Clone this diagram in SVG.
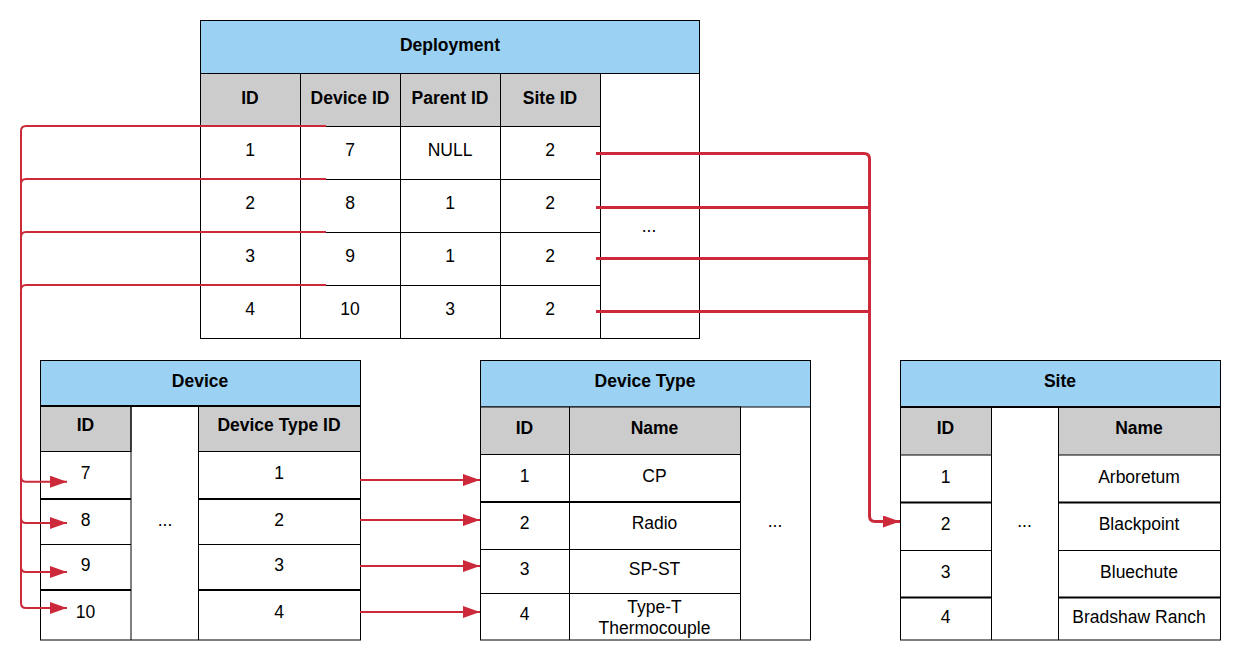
<svg xmlns="http://www.w3.org/2000/svg" width="1252" height="660" viewBox="0 0 1252 660">
<defs>
<marker id="ah" markerWidth="17" markerHeight="12" refX="17" refY="6" orient="auto" markerUnits="userSpaceOnUse"><path d="M0,0 L17,6 L0,12 Z" fill="#cc2a3a"/></marker>
<style>
.t{font-family:"Liberation Sans",Arial,sans-serif;font-size:17.5px;fill:#000;text-anchor:middle}
.b{font-weight:bold}
.hd{fill:#9bd2f3;stroke:#000;stroke-width:1}
.gr{fill:#cccccc;stroke:#000;stroke-width:1}
.cell{fill:#fff;stroke:#000;stroke-width:1}
.ln{stroke:#000;stroke-width:1;fill:none}
.tk{stroke:#000;stroke-width:2;fill:none}
.c{fill:none;stroke:#cc2a3a;stroke-width:2}
.c3{stroke-width:3}
</style>
</defs>
<rect width="1252" height="660" fill="#fff"/>

<g id="deployment">
<rect class="cell" x="200.5" y="20.5" width="499" height="318"/>
<rect class="hd" x="200.5" y="20.5" width="499" height="53"/>
<rect class="gr" x="200.5" y="73.5" width="400" height="53"/>
<path class="ln" d="M300.5,73.5V338.5M400.5,73.5V338.5M500.5,73.5V338.5M600.5,73.5V338.5M200.5,179.5H600.5M200.5,232.5H600.5M200.5,285.5H600.5"/>
<text class="t b" x="450" y="50.5">Deployment</text>
<text class="t b" x="250" y="103.5">ID</text>
<text class="t b" x="350" y="103.5">Device ID</text>
<text class="t b" x="450" y="103.5">Parent ID</text>
<text class="t b" x="550" y="103.5">Site ID</text>
<text class="t" x="250" y="156">1</text><text class="t" x="350" y="156">7</text><text class="t" x="450" y="156">NULL</text><text class="t" x="550" y="156">2</text>
<text class="t" x="250" y="209">2</text><text class="t" x="350" y="209">8</text><text class="t" x="450" y="209">1</text><text class="t" x="550" y="209">2</text>
<text class="t" x="250" y="262">3</text><text class="t" x="350" y="262">9</text><text class="t" x="450" y="262">1</text><text class="t" x="550" y="262">2</text>
<text class="t" x="250" y="315">4</text><text class="t" x="350" y="315">10</text><text class="t" x="450" y="315">3</text><text class="t" x="550" y="315">2</text>
<text class="t" x="649" y="232">...</text>
</g>

<g id="device">
<rect class="cell" x="40.5" y="360.5" width="320" height="279.5"/>
<rect class="hd" x="40.5" y="360.5" width="320" height="45.5"/>
<rect class="gr" x="40.5" y="406" width="90.5" height="45.5"/>
<rect class="gr" x="198.5" y="406" width="162" height="45.5"/>
<path class="tk" d="M40.5,406H360.5"/>
<path class="ln" d="M131,406V640M198.5,406V640M40.5,544.5H131M198.5,544.5H360.5"/>
<path class="tk" d="M40.5,499H131M198.5,499H360.5M40.5,590H131M198.5,590H360.5"/>
<text class="t b" x="200" y="387">Device</text>
<text class="t b" x="85.5" y="431">ID</text>
<text class="t b" x="279" y="431">Device Type ID</text>
<text class="t" x="85.5" y="479">7</text><text class="t" x="279" y="479">1</text>
<text class="t" x="85.5" y="526">8</text><text class="t" x="279" y="526">2</text>
<text class="t" x="85.5" y="571">9</text><text class="t" x="279" y="571">3</text>
<text class="t" x="85.5" y="618">10</text><text class="t" x="279" y="618">4</text>
<text class="t" x="165" y="526">...</text>
</g>

<g id="device-type">
<rect class="cell" x="480.5" y="360.5" width="330" height="279.5"/>
<rect class="hd" x="480.5" y="360.5" width="330" height="46.5"/>
<rect class="gr" x="480.5" y="407" width="260" height="47.5"/>
<path class="ln" d="M569.5,407V640M740.5,407V640M480.5,549.5H740.5M480.5,593.5H740.5"/>
<path class="tk" d="M480.5,502H740.5"/>
<text class="t b" x="645" y="387">Device Type</text>
<text class="t b" x="524.5" y="434">ID</text>
<text class="t b" x="654.5" y="434">Name</text>
<text class="t" x="524.5" y="481.5">1</text><text class="t" x="654.5" y="481.5">CP</text>
<text class="t" x="524.5" y="529">2</text><text class="t" x="654.5" y="529">Radio</text>
<text class="t" x="524.5" y="575">3</text><text class="t" x="654.5" y="575">SP-ST</text>
<text class="t" x="524.5" y="620">4</text><text class="t" x="654.5" y="612.5">Type-T</text><text class="t" x="654.5" y="634">Thermocouple</text>
<text class="t" x="775" y="527">...</text>
</g>

<g id="site">
<rect class="cell" x="900.5" y="360.5" width="320" height="279.5"/>
<rect class="hd" x="900.5" y="360.5" width="320" height="46.5"/>
<rect class="gr" x="900.5" y="407" width="91" height="48"/>
<rect class="gr" x="1058.5" y="407" width="162" height="48"/>
<path class="tk" d="M900.5,407H1220.5"/>
<path class="ln" d="M991.5,407V640M1058.5,407V640M900.5,550.5H991.5M1058.5,550.5H1220.5"/>
<path class="tk" d="M900.5,502.5H991.5M1058.5,502.5H1220.5M900.5,597.5H991.5M1058.5,597.5H1220.5"/>
<text class="t b" x="1060" y="387">Site</text>
<text class="t b" x="945.5" y="434">ID</text>
<text class="t b" x="1139" y="434">Name</text>
<text class="t" x="945.5" y="483">1</text><text class="t" x="1139" y="483">Arboretum</text>
<text class="t" x="945.5" y="530">2</text><text class="t" x="1139" y="530">Blackpoint</text>
<text class="t" x="945.5" y="577.5">3</text><text class="t" x="1139" y="577.5">Bluechute</text>
<text class="t" x="945.5" y="622.5">4</text><text class="t" x="1139" y="622.5">Bradshaw Ranch</text>
<text class="t" x="1024.5" y="527">...</text>
</g>

<g id="connectors">
<path class="c" d="M326,126H26Q21,126 21,131V476.7Q21,481.7 26,481.7H67" marker-end="url(#ah)"/>
<path class="c" d="M326,179H26Q21,179 21,184V518Q21,523 26,523H67" marker-end="url(#ah)"/>
<path class="c" d="M326,232H26Q21,232 21,237V567Q21,572 26,572H67" marker-end="url(#ah)"/>
<path class="c" d="M326,285H26Q21,285 21,290V603Q21,608 26,608H67" marker-end="url(#ah)"/>
<path class="c" d="M360,480H480" marker-end="url(#ah)"/>
<path class="c" d="M360,520H480" marker-end="url(#ah)"/>
<path class="c" d="M360,566H480" marker-end="url(#ah)"/>
<path class="c" d="M360,612H480" marker-end="url(#ah)"/>
<path class="c c3" d="M596,153.5H864Q869.5,153.5 869.5,159V516Q869.5,521.5 875,521.5H900" marker-end="url(#ah)"/>
<path class="c c3" d="M596,207.5H869.5"/>
<path class="c c3" d="M596,258.5H869.5"/>
<path class="c c3" d="M596,311.5H869.5"/>
</g>
</svg>
